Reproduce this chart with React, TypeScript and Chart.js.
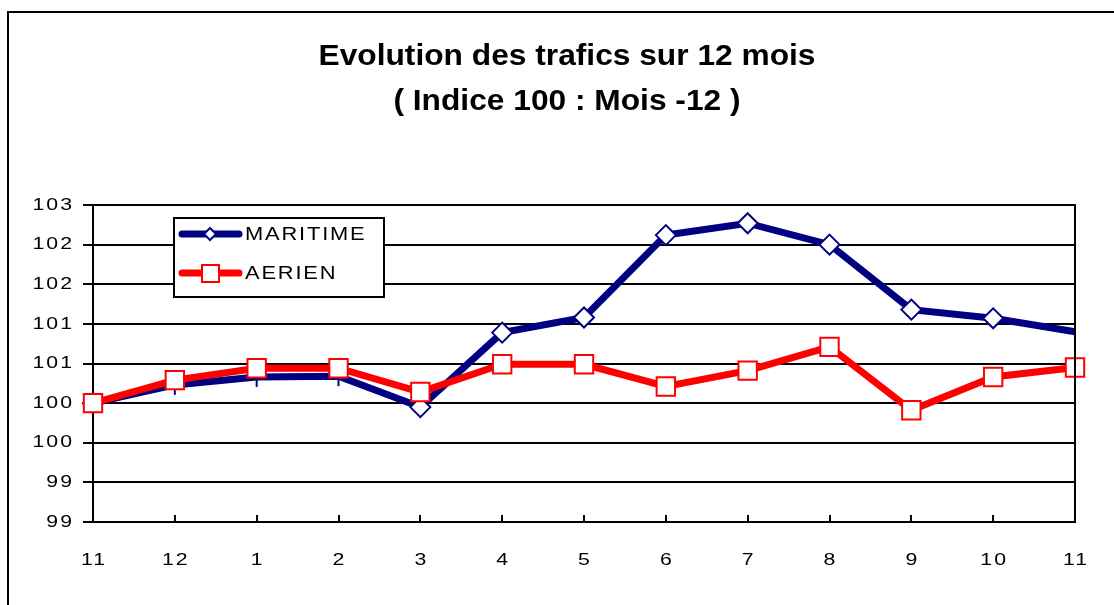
import React, { useEffect, useRef } from 'react';
import { Chart, registerables } from 'chart.js';

Chart.register(...registerables);

// ---- Data ----
const months: string[] = ['11', '12', '1', '2', '3', '4', '5', '6', '7', '8', '9', '10', '11'];
const maritime: number[] = [100.5, 100.73, 100.83, 100.84, 100.45, 101.39, 101.58, 102.62, 102.77, 102.5, 101.68, 101.57, 101.4];
const aerien: number[] = [100.5, 100.79, 100.94, 100.94, 100.64, 100.99, 100.99, 100.71, 100.91, 101.21, 100.41, 100.83, 100.95];
const seriesNames: string[] = ['MARITIME', 'AERIEN'];
const titleLines: string[] = ['Evolution des trafics sur 12 mois', '( Indice 100 : Mois -12 )'];
const yMin = 99;
const yMax = 103;
const yStep = 0.5;

const NAVY = '#000080';
const RED = '#FF0000';
const FONT = '"Liberation Sans", Arial, sans-serif';
// indices where the MARITIME marker shows only as a thin vertical stroke in the reference
const thinMarkerIdx = [1, 2, 3, 12];

const formatY = (v: number) => String(Math.floor(v));

// draws text horizontally stretched (the reference's text is wide)
function stretchedText(
  ctx: CanvasRenderingContext2D,
  text: string,
  x: number,
  y: number,
  sx: number,
  align: CanvasTextAlign,
  baseline: CanvasTextBaseline,
  font: string,
  spacing: number
) {
  ctx.save();
  (ctx as any).letterSpacing = spacing + 'px';
  ctx.font = font;
  ctx.textAlign = 'left';
  ctx.textBaseline = baseline;
  const w = ctx.measureText(text).width - spacing; // drop trailing spacing
  let x0 = 0;
  if (align === 'center') x0 = -w / 2;
  else if (align === 'right') x0 = -w;
  ctx.translate(x, y);
  ctx.scale(sx, 1);
  ctx.fillText(text, x0, 0);
  ctx.restore();
}

const decorPlugin = {
  id: 'decor',
  afterDraw(chart: any) {
    const ctx = chart.ctx as CanvasRenderingContext2D;
    const area = chart.chartArea;
    ctx.save();
    // outer border
    ctx.strokeStyle = '#000';
    ctx.lineWidth = 2;
    ctx.strokeRect(8, 12, 3000, 3000);
    // right plot border
    ctx.beginPath();
    ctx.moveTo(area.right, area.top - 1);
    ctx.lineTo(area.right, area.bottom + 1);
    ctx.stroke();
    // inward x tick marks
    const xs = chart.scales.x;
    const ys = chart.scales.y;
    for (let i = 1; i < xs.ticks.length; i++) {
      const px = Math.round(xs.getPixelForTick(i));
      ctx.beginPath();
      ctx.moveTo(px, area.bottom - 7);
      ctx.lineTo(px, area.bottom);
      ctx.stroke();
    }
    ctx.fillStyle = '#000';
    const tickFont = `17px ${FONT}`;
    // x tick labels (positions from the category scale)
    for (let i = 0; i < xs.ticks.length; i++) {
      const px = xs.getPixelForTick(i);
      stretchedText(ctx, String(xs.getLabelForValue(xs.ticks[i].value)), px, 560, 1.25, 'center', 'middle', tickFont, 1.6);
    }
    // y tick labels (positions from the linear scale)
    for (let i = 0; i < ys.ticks.length; i++) {
      const py = ys.getPixelForTick(i);
      stretchedText(ctx, formatY(ys.ticks[i].value), 72, py, 1.25, 'right', 'middle', tickFont, 1.6);
    }
    // title
    const titleFont = `bold 30px ${FONT}`;
    stretchedText(ctx, titleLines[0], 567, 65, 1.057, 'center', 'alphabetic', titleFont, 0);
    stretchedText(ctx, titleLines[1], 567, 110, 1.057, 'center', 'alphabetic', titleFont, 0);

    // legend
    const bx = 174, by = 218, bw = 210, bh = 79;
    ctx.fillStyle = '#fff';
    ctx.fillRect(bx, by, bw, bh);
    ctx.strokeStyle = '#000';
    ctx.lineWidth = 2;
    ctx.strokeRect(bx, by, bw, bh);
    const rows = [
      { y: 234, color: NAVY, name: seriesNames[0], marker: 'diamond' },
      { y: 273, color: RED, name: seriesNames[1], marker: 'square' },
    ];
    for (const r of rows) {
      ctx.strokeStyle = r.color;
      ctx.lineWidth = 7;
      ctx.lineCap = 'round';
      ctx.beginPath();
      ctx.moveTo(182, r.y);
      ctx.lineTo(239, r.y);
      ctx.stroke();
      ctx.lineCap = 'butt';
      ctx.lineWidth = 2;
      ctx.fillStyle = '#fff';
      ctx.beginPath();
      if (r.marker === 'diamond') {
        const s = 6;
        ctx.moveTo(210 - s, r.y);
        ctx.lineTo(210, r.y - s);
        ctx.lineTo(210 + s, r.y);
        ctx.lineTo(210, r.y + s);
        ctx.closePath();
      } else {
        ctx.rect(202, r.y - 8, 17, 17);
      }
      ctx.fill();
      ctx.stroke();
      ctx.fillStyle = '#000';
      stretchedText(ctx, r.name, 245, r.y + 1, 1.15, 'left', 'middle', `19px ${FONT}`, 1.6);
    }
    ctx.restore();
  },
};

export default function App() {
  const ref = useRef<HTMLCanvasElement | null>(null);
  useEffect(() => {
    if (!ref.current) return;
    const chart = new Chart(ref.current, {
      type: 'line',
      data: {
        labels: months,
        datasets: [
          {
            label: seriesNames[0],
            data: maritime,
            borderColor: NAVY,
            backgroundColor: '#fff',
            borderWidth: 7,
            pointStyle: (c: any) => (thinMarkerIdx.includes(c.dataIndex) ? 'line' : 'rectRot'),
            rotation: (c: any) => (thinMarkerIdx.includes(c.dataIndex) ? 90 : 0),
            pointRadius: 10,
            pointBorderWidth: 2,
            pointBorderColor: NAVY,
            pointBackgroundColor: '#fff',
            tension: 0,
            clip: false,
            order: 2,
          } as any,
          {
            label: seriesNames[1],
            data: aerien,
            borderColor: RED,
            backgroundColor: '#fff',
            borderWidth: 7,
            pointStyle: 'rect',
            pointRadius: 13,
            pointBorderWidth: 2,
            pointBorderColor: RED,
            pointBackgroundColor: '#fff',
            tension: 0,
            clip: false,
            order: 1,
          } as any,
        ],
      },
      options: {
        animation: false,
        responsive: false,
        maintainAspectRatio: false,
        events: [],
        layout: { padding: { top: 205, right: 39, left: 0, bottom: 0 } },
        plugins: {
          legend: { display: false },
          title: { display: false },
          tooltip: { enabled: false },
        },
        scales: {
          x: {
            offset: false,
            grid: { display: false, drawTicks: false },
            border: { display: true, color: '#000', width: 2 },
            ticks: { display: false, autoSkip: false, maxRotation: 0 },
            afterFit: (s: any) => {
              s.height = 83;
            },
          },
          y: {
            min: yMin,
            max: yMax,
            grid: { color: '#000', lineWidth: 2, tickLength: 10, tickColor: '#000' },
            border: { display: true, color: '#000', width: 2 },
            ticks: { display: false, stepSize: yStep },
            afterFit: (s: any) => {
              s.width = 93;
            },
          },
        },
      },
      plugins: [decorPlugin],
    });
    return () => chart.destroy();
  }, []);
  return (
    <div style={{ position: 'absolute', left: 0, top: 0, width: 1114, height: 605, background: '#fff' }}>
      <canvas ref={ref} width={1114} height={605} style={{ display: 'block', width: 1114, height: 605 }} />
    </div>
  );
}
